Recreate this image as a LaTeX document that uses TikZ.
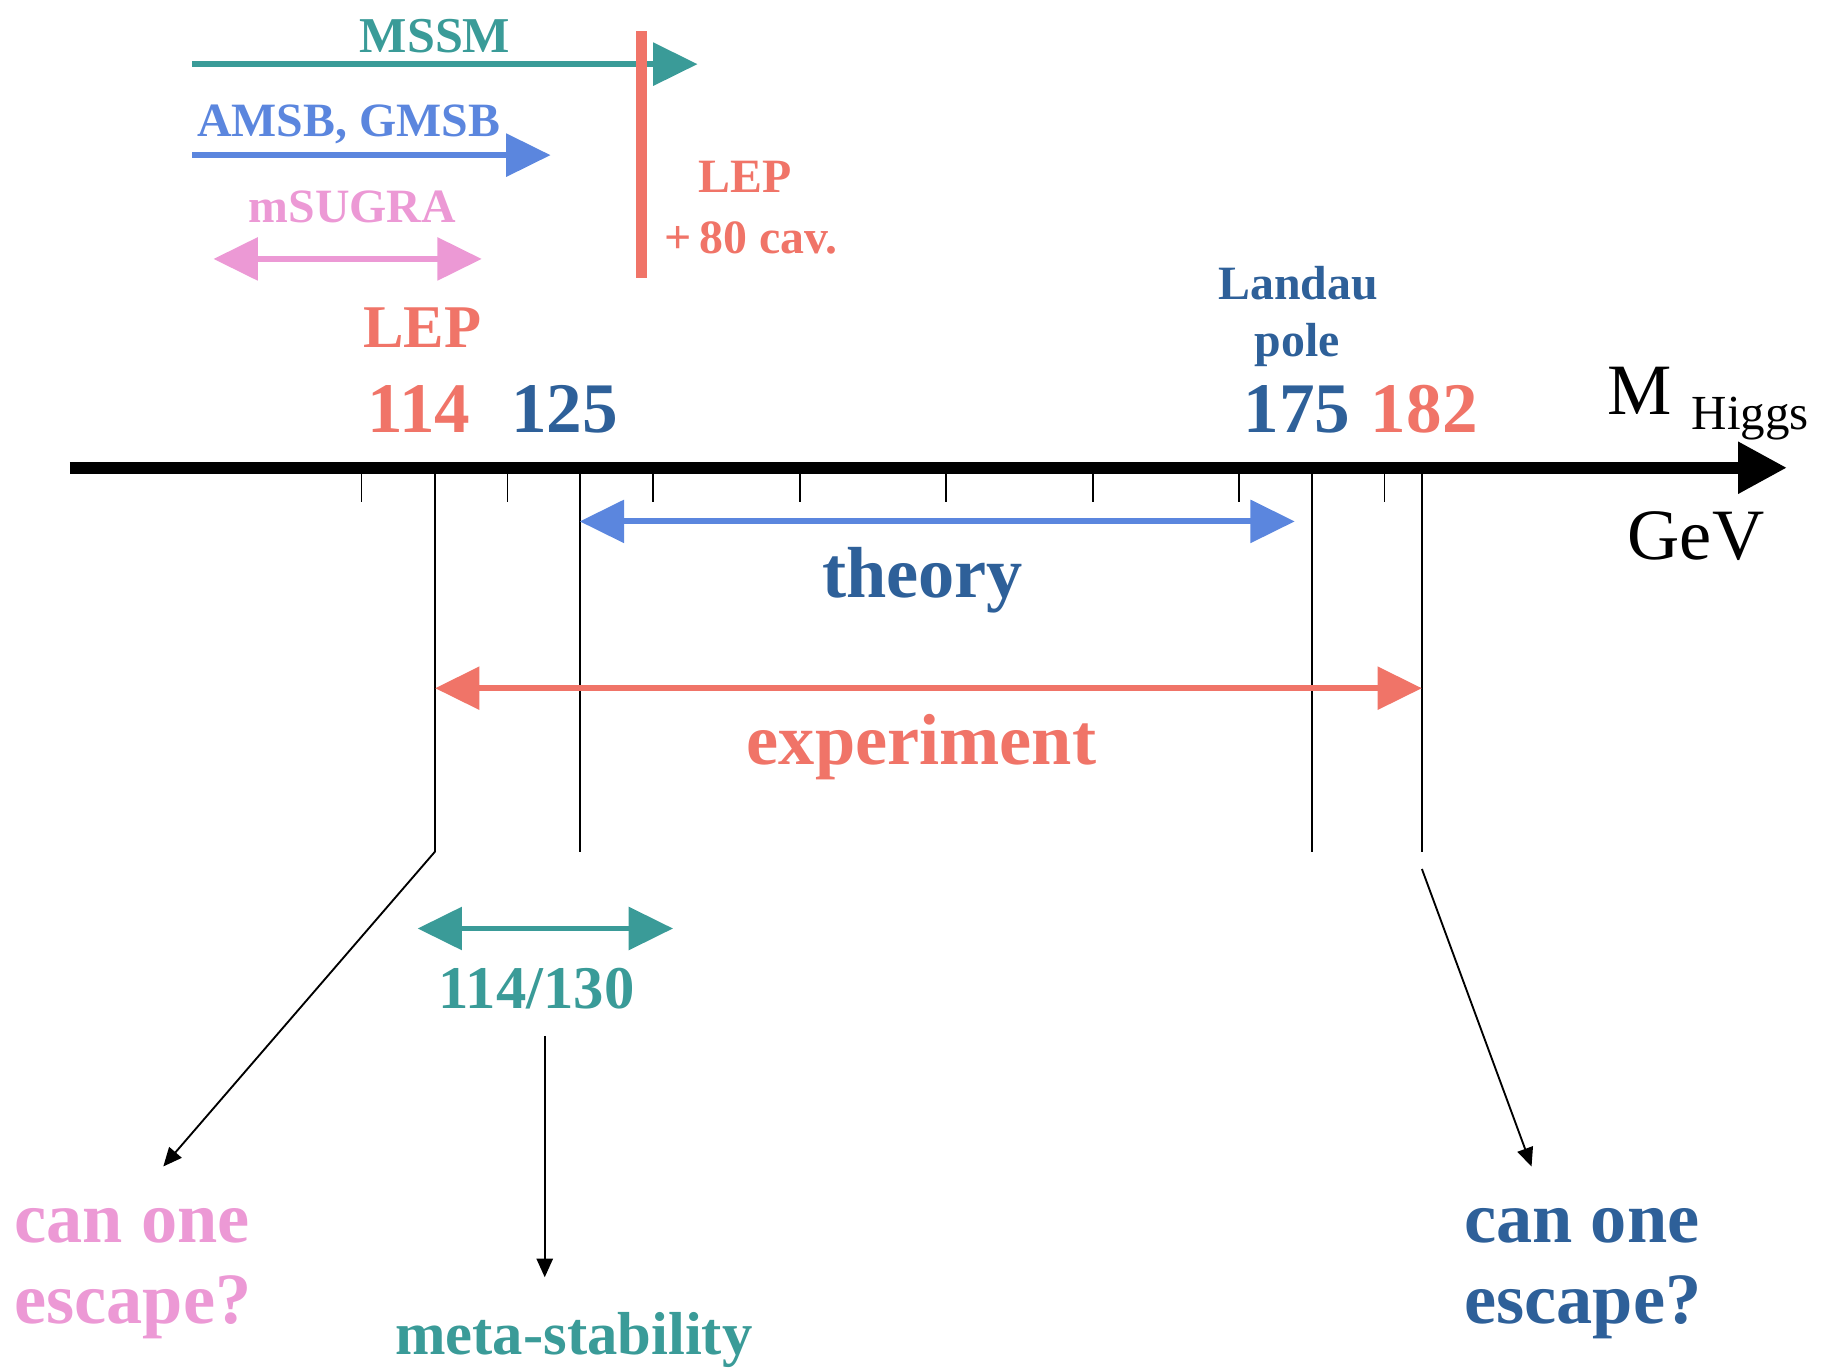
\documentclass[tikz,border=0pt]{standalone}
\usepackage{fontspec}
\setmainfont{Liberation Serif}
\usetikzlibrary{arrows.meta}
\definecolor{cteal}{RGB}{58,155,152}
\definecolor{cblue}{RGB}{91,134,222}
\definecolor{cdark}{RGB}{46,96,153}
\definecolor{cpink}{RGB}{236,153,213}
\definecolor{cred}{RGB}{240,116,104}
\tikzset{
  txt/.style={inner sep=0pt, anchor=base},
  small/.style={txt, font=\fontsize{20.5pt}{24pt}\selectfont\bfseries},
  mid/.style={txt, font=\fontsize{26pt}{30pt}\selectfont\bfseries},
  big/.style={txt, font=\fontsize{30.5pt}{35pt}\selectfont\bfseries},
  plain/.style={txt, font=\fontsize{31pt}{36pt}\selectfont},
  bighead/.tip={Triangle[length=19pt,width=18pt]},
  smallhead/.tip={Triangle[length=8pt,width=7pt]},
  fat/.style={line width=2.5pt},
  rarr/.style={fat, -{bighead}},
  darr/.style={fat, {bighead}-{bighead}},
  thin/.style={line width=0.7pt},
  black arrow/.style={line width=0.8pt, -{smallhead}}
}
\begin{document}
\begin{tikzpicture}[x=0.5pt,y=-0.5pt]
\useasboundingbox (0,0) rectangle (1568,1176);

% top group
\node[small, font=\fontsize{21.5pt}{25pt}\selectfont\bfseries, text=cteal] (mssm) at (373,45) {MSSM};
\coordinate (mssmA) at (165,55);
\coordinate (mssmB) at (598,55);
\draw[rarr, cteal] (mssmA) -- (mssmB);

\node[small, text=cblue] (amsb) at (299,117) {AMSB, GMSB};
\coordinate (amsbA) at (165,133);
\coordinate (amsbB) at (472,133);
\draw[rarr, cblue] (amsbA) -- (amsbB);

\node[small, text=cpink] (msugra) at (302,191) {mSUGRA};
\coordinate (msA) at (183,222);
\coordinate (msB) at (413,222);
\draw[darr, cpink] (msA) -- (msB);

\coordinate (barT) at (550,27);
\coordinate (barB) at (550,238);
\draw[line width=5pt, cred] (barT) -- (barB);

\node[small, text=cred] (lep1) at (639,165) {LEP};
\node[small, text=cred] (lep2) at (644,217) {+\,80 cav.};

% labels above axis
\node[mid, text=cred] (lepbig) at (362,298) {LEP};
\node[big, text=cred] (n114) at (359,371) {114};
\node[big, text=cdark] (n125) at (484,371) {125};
\node[big, text=cdark] (n175) at (1112,371) {175};
\node[big, text=cred] (n182) at (1221,371) {182};
\node[small, text=cdark] (landau) at (1113,257) {Landau};
\node[small, text=cdark] (pole) at (1112,306) {pole};
\node[plain, anchor=base west] (mh) at (1378,355) {M};
\node[txt, anchor=base west, font=\fontsize{21pt}{25pt}\selectfont] (higgs) at (1450,368) {Higgs};
\node[plain, anchor=base west] (gev) at (1395,480) {GeV};

% axis
\coordinate (axA) at (60,401);
\coordinate (axB) at (1532,401);
\draw[line width=5pt, -{Triangle[length=21pt,width=21pt]}] (axA) -- (axB);

% ticks
\foreach \x in {310,435,560,686,811,937,1062,1187}
  \draw[thin] (\x,401) -- (\x,430);

% long lines
\coordinate (l114t) at (373,401); \coordinate (l114b) at (373,730);
\coordinate (l125t) at (497,401); \coordinate (l125b) at (497,730);
\coordinate (l175t) at (1125,401); \coordinate (l175b) at (1125,730);
\coordinate (l182t) at (1219,401); \coordinate (l182b) at (1219,730);
\draw[thin] (l114t) -- (l114b);
\draw[thin] (l125t) -- (l125b);
\draw[thin] (l175t) -- (l175b);
\draw[thin] (l182t) -- (l182b);

% theory / experiment
\coordinate (thA) at (497,447);
\coordinate (thB) at (1110,447);
\draw[darr, cblue] (thA) -- (thB);
\node[txt, font=\fontsize{31pt}{36pt}\selectfont\bfseries, text=cdark] (theory) at (791,512) {theory};

\coordinate (exA) at (373,590);
\coordinate (exB) at (1219,590);
\draw[darr, cred] (exA) -- (exB);
\node[txt, font=\fontsize{31pt}{36pt}\selectfont\bfseries, text=cred] (experiment) at (790,655) {experiment};

% metastability
\coordinate (msbA) at (358,796);
\coordinate (msbB) at (577,796);
\draw[darr, cteal] (msbA) -- (msbB);
\node[mid, text=cteal] (r114) at (460,865) {114/130};
\node[mid, text=cteal] (meta) at (492,1161) {meta-stability};

% bottom texts
\node[txt, anchor=base west, font=\fontsize{31pt}{35pt}\selectfont\bfseries, text=cpink, align=left] (esc1) at (12,1135) {can one\\escape?};
\node[txt, anchor=base west, font=\fontsize{31pt}{35pt}\selectfont\bfseries, text=cdark, align=left] (esc2) at (1255,1135) {can one\\escape?};

% black arrows
\coordinate (a1e) at (140,1000);
\coordinate (a2s) at (467,888);
\coordinate (a2e) at (467,1095);
\coordinate (a3s) at (1219,745);
\coordinate (a3e) at (1313,1000);
\draw[black arrow] (l114b) -- (a1e);
\draw[black arrow] (a2s) -- (a2e);
\draw[black arrow] (a3s) -- (a3e);
\end{tikzpicture}
\end{document}
